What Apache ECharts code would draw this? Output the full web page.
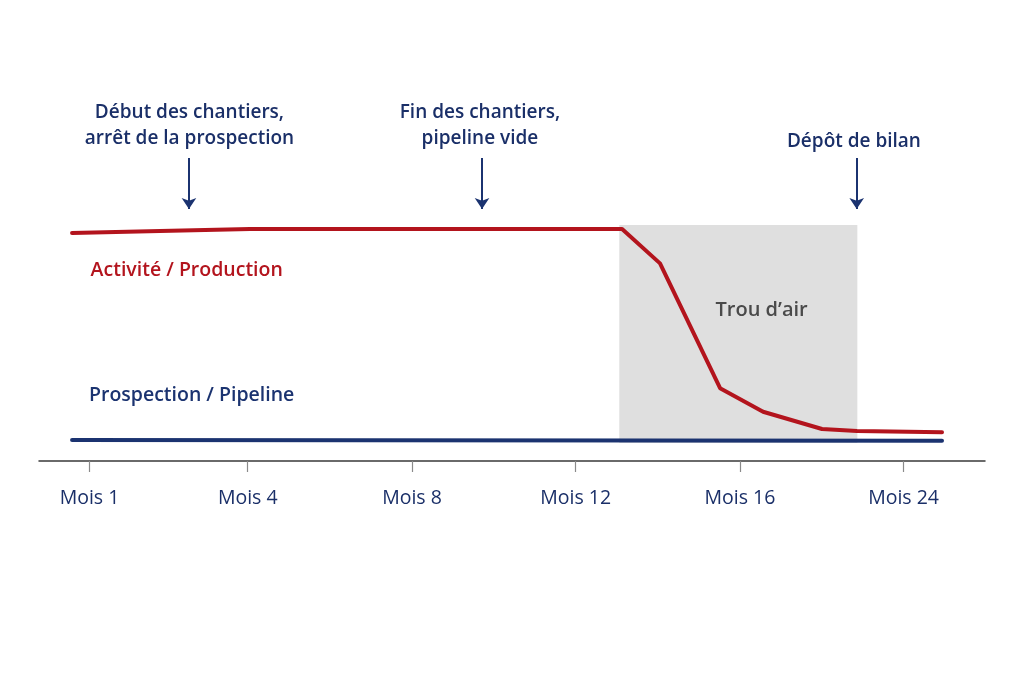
<!DOCTYPE html>
<html>
<head>
<meta charset="utf-8">
<script src="https://cdn.jsdelivr.net/npm/echarts@6/dist/echarts.min.js"></script>
<style>
html,body{margin:0;padding:0;background:#fff;}
#c{width:1024px;height:683px;}
</style>
</head>
<body>
<div id="c"></div>
<script>
// ---- data ----
const tickLabels = ['Mois 1','Mois 4','Mois 8','Mois 12','Mois 16','Mois 24'];
const tickPos = [0, 0.972, 1.981, 2.986, 3.995, 5.0];
const activiteX = [-0.107, 0.433, 0.986, 3.271, 3.504, 3.873, 4.137, 4.499, 4.714, 5.236];
const activiteY = [97.7, 98.6, 99.4, 99.4, 84.7, 31.2, 21.1, 13.7, 12.9, 12.3];
const pipelineX = [-0.107, 5.236];
const pipelineY = [9.0, 8.7];
const trouDair = [3.254, 4.716, 7.7, 101.1]; // x0, x1, y0, y1
const arrowsX = [0.611, 2.411, 4.712];
const arrowTop = 129.9, arrowTip = 108;
const annotations = [
  {text:'Début des chantiers,\narrêt de la prospection', x:0.614, y:143.6},
  {text:'Fin des chantiers,\npipeline vide', x:2.398, y:143.6},
  {text:'Dépôt de bilan', x:4.695, y:136.8}
];
const seriesLabels = [
  {text:'Activité / Production', x:0.007, y:81.6, color:'#b3141d'},
  {text:'Prospection / Pipeline', x:-0.003, y:28.0, color:'#1b3370'}
];
const zoneLabel = {text:'Trou d’air', x:4.128, y:64.4};

const RED = '#b3141d', NAVY = '#1b3370', TXT = '#1a2f68';
const FONT = '"Open Sans", "Noto Sans", sans-serif';

const chart = echarts.init(document.getElementById('c'), null, {renderer:'canvas'});
const zip = (xs, ys) => xs.map((x,i)=>[x, ys[i]]);

chart.setOption({
  animation:false,
  backgroundColor:'#ffffff',
  grid:{left:39, right:39, top:41, bottom:222},
  xAxis:{
    type:'value', min:-0.31, max:5.5,
    splitLine:{show:false},
    axisLine:{show:true, lineStyle:{color:'#3a3a3a', width:1.5}},
    axisTick:{show:true, length:11, customValues:tickPos, lineStyle:{color:'#8a8a8a', width:1.2}},
    axisLabel:{
      show:true, customValues:tickPos, margin:27,
      color:TXT, fontSize:19.5, fontFamily:FONT, fontWeight:500,
      formatter:(v)=>{ const i = tickPos.findIndex(p=>Math.abs(p-v)<1e-6); return i>=0 ? tickLabels[i] : ''; }
    }
  },
  yAxis:{type:'value', min:0, max:180, show:false, splitLine:{show:false}},
  series:[
    {
      type:'custom', z:1, silent:true,
      data:[trouDair],
      renderItem:(params, api)=>{
        const p0 = api.coord([api.value(0), api.value(3)]);
        const p1 = api.coord([api.value(1), api.value(2)]);
        return {type:'rect', shape:{x:p0[0], y:p0[1], width:p1[0]-p0[0], height:p1[1]-p0[1]},
                style:{fill:'#dfdfdf'}};
      }
    },
    {
      type:'line', z:3, name:'Prospection / Pipeline',
      data:zip(pipelineX, pipelineY), symbol:'none',
      lineStyle:{color:NAVY, width:4, cap:'round'}
    },
    {
      type:'line', z:4, name:'Activité / Production',
      data:zip(activiteX, activiteY), symbol:'none', smooth:false,
      lineStyle:{color:RED, width:4, cap:'round', join:'round'}
    },
    {
      type:'line', z:5, data:[], silent:true,
      markLine:{
        silent:true, symbol:['none','arrow'], symbolSize:11,
        label:{show:false},
        lineStyle:{color:NAVY, width:2, type:'solid'},
        data: arrowsX.map(x=>[{coord:[x, arrowTop]},{coord:[x, arrowTip]}])
      },
      markPoint:{
        silent:true, symbol:'circle', symbolSize:0,
        data:[
          ...annotations.map(a=>({coord:[a.x,a.y], label:{show:true, position:'inside', formatter:a.text,
              color:TXT, fontSize:19, fontFamily:FONT, fontWeight:600, lineHeight:26, align:'center'}})),
          ...seriesLabels.map(a=>({coord:[a.x,a.y], label:{show:true, position:'right', distance:0, formatter:a.text,
              color:a.color, fontSize:19.5, fontFamily:FONT, fontWeight:600}})),
          {coord:[zoneLabel.x, zoneLabel.y], label:{show:true, position:'inside', formatter:zoneLabel.text,
              color:'#4a4a4a', fontSize:20, fontFamily:FONT, fontWeight:600}}
        ]
      }
    }
  ]
});
</script>
</body>
</html>
